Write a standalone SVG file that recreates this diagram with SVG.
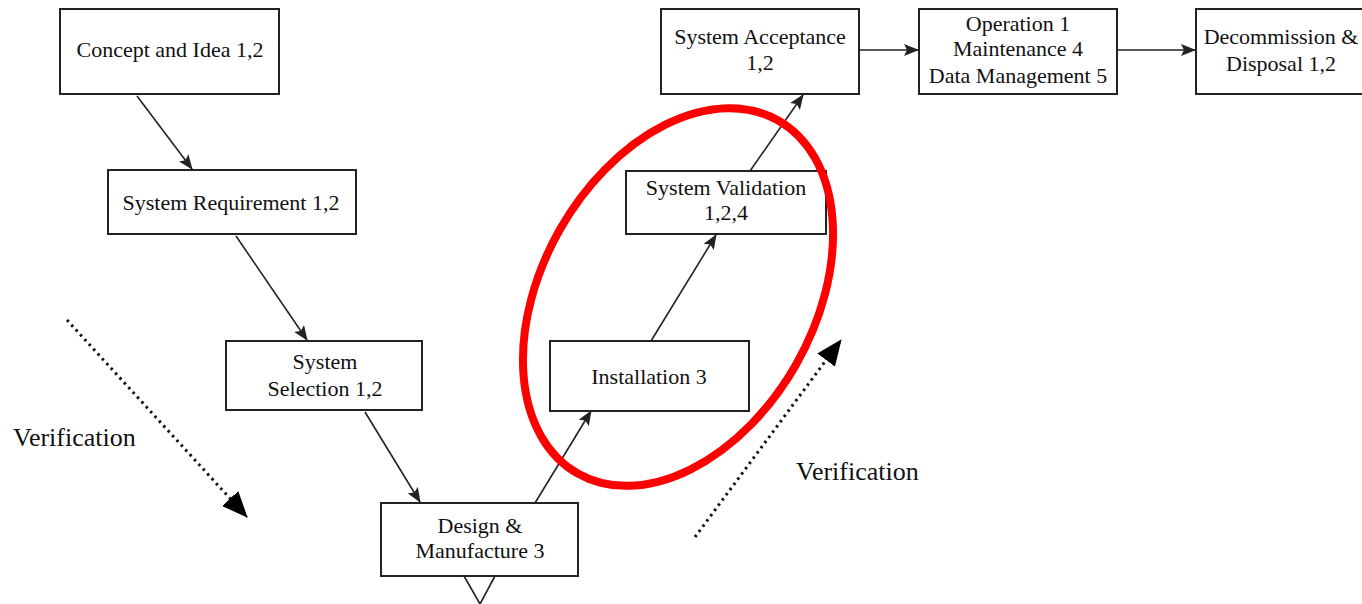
<svg xmlns="http://www.w3.org/2000/svg" width="1362" height="604" viewBox="0 0 1362 604">
<style>
.box{fill:#fff;stroke:#222;stroke-width:2}
.t{font-family:'Liberation Serif','Times New Roman',serif;font-size:22px;fill:#111;text-anchor:middle}
.v{font-family:'Liberation Serif','Times New Roman',serif;font-size:26px;fill:#111}
.c{stroke:#222;stroke-width:1.6;fill:none}
.d{stroke:#111;stroke-width:3;fill:none;stroke-dasharray:2.5 4}
</style>
<defs>
<marker id="ah" markerUnits="userSpaceOnUse" markerWidth="15" markerHeight="12" refX="14" refY="6" orient="auto">
<path d="M0,0 L15,6 L0,12 L3,6 Z" fill="#222"/>
</marker>
<marker id="big" markerUnits="userSpaceOnUse" markerWidth="26" markerHeight="22" refX="25" refY="11" orient="auto">
<path d="M0,0 L26,11 L0,22 Z" fill="#000"/>
</marker>
</defs>
<g id="connectors">
<line class="c" x1="137" y1="96" x2="192" y2="169" marker-end="url(#ah)"/>
<line class="c" x1="236" y1="236" x2="307" y2="340" marker-end="url(#ah)"/>
<line class="c" x1="365" y1="412" x2="420" y2="502" marker-end="url(#ah)"/>
<line class="c" x1="535" y1="503" x2="591" y2="411" marker-end="url(#ah)"/>
<line class="c" x1="651" y1="341" x2="716" y2="235" marker-end="url(#ah)"/>
<line class="c" x1="750" y1="171" x2="803" y2="95" marker-end="url(#ah)"/>
<line class="c" x1="859" y1="50" x2="918" y2="50" marker-end="url(#ah)"/>
<line class="c" x1="1117" y1="50" x2="1195" y2="50" marker-end="url(#ah)"/>
<line class="d" x1="67" y1="320" x2="247" y2="517" marker-end="url(#big)"/>
<line class="d" x1="695" y1="537" x2="841" y2="340" marker-end="url(#big)"/>
<polyline class="c" points="464,576 480,604 495,576"/>
</g>
<g id="concept"><rect class="box" x="60" y="9" width="219" height="85"/><text class="t" x="170" y="57">Concept and Idea 1,2</text></g>
<g id="requirement"><rect class="box" x="108" y="170" width="248" height="64"/><text class="t" x="231" y="210">System Requirement 1,2</text></g>
<g id="selection"><rect class="box" x="226" y="341" width="196" height="69"/><text class="t" x="325" y="369">System</text><text class="t" x="325" y="396">Selection 1,2</text></g>
<g id="design"><rect class="box" x="381" y="503" width="197" height="73"/><text class="t" x="480" y="533">Design &amp;</text><text class="t" x="480" y="558">Manufacture 3</text></g>
<g id="installation"><rect class="box" x="550" y="341" width="199" height="70"/><text class="t" x="649" y="384">Installation 3</text></g>
<g id="validation"><rect class="box" x="626" y="171" width="200" height="63"/><text class="t" x="726" y="195">System Validation</text><text class="t" x="726" y="220">1,2,4</text></g>
<g id="acceptance"><rect class="box" x="661" y="9" width="198" height="85"/><text class="t" x="760" y="44">System Acceptance</text><text class="t" x="760" y="70">1,2</text></g>
<g id="operation"><rect class="box" x="919" y="9" width="198" height="85"/><text class="t" x="1018" y="31">Operation 1</text><text class="t" x="1018" y="56">Maintenance 4</text><text class="t" x="1018" y="83">Data Management 5</text></g>
<g id="decommission"><rect class="box" x="1196" y="9" width="180" height="85"/><text class="t" x="1281" y="44">Decommission &amp;</text><text class="t" x="1281" y="71">Disposal 1,2</text></g>
<g id="labels"><text class="v" x="13" y="446">Verification</text><text class="v" x="796" y="480">Verification</text></g>
<ellipse id="highlight" cx="678" cy="297" rx="136" ry="203" transform="rotate(29.6 678 297)" fill="none" stroke="#ff0000" stroke-width="8"/>
</svg>
